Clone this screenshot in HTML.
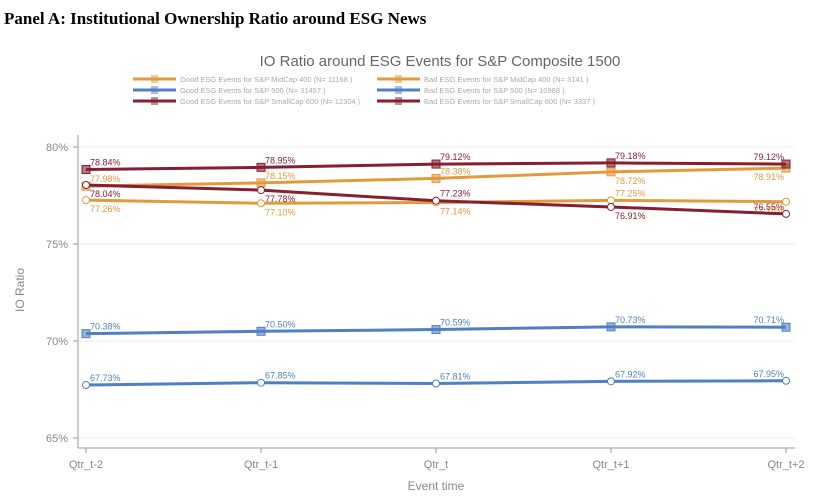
<!DOCTYPE html>
<html><head><meta charset="utf-8"><style>
body{margin:0;background:#fff;width:813px;height:498px;overflow:hidden}
svg text{font-family:"Liberation Sans",sans-serif}
</style></head><body>
<svg width="813" height="498">
<text x="4" y="24" font-weight="bold" font-size="17" fill="#000" style="font-family:'Liberation Serif',serif">Panel A: Institutional Ownership Ratio around ESG News</text>
<text x="440" y="66" text-anchor="middle" font-size="15" fill="#666">IO Ratio around ESG Events  for S&amp;P Composite 1500</text>
<g id="legend"></g>
<g id="grid"></g>
<line x1="78" y1="135" x2="78" y2="448" stroke="#999"/>
<line x1="78" y1="448" x2="795" y2="448" stroke="#999"/>
<g id="plot"></g>
<text x="24" y="290" transform="rotate(-90 24 290)" text-anchor="middle" font-size="12" fill="#888">IO Ratio</text>
<text x="436" y="490" text-anchor="middle" font-size="12" fill="#888">Event time</text>
</svg>
<script>
const categories=["Qtr_t-2","Qtr_t-1","Qtr_t","Qtr_t+1","Qtr_t+2"];
const yTicks=[65,70,75,80];
const seriesNames=["Good ESG Events for S&P MidCap 400 (N= 11168 )","Bad ESG Events for S&P MidCap 400 (N= 3141 )","Good ESG Events for S&P 500 (N= 31457 )","Bad ESG Events for S&P 500 (N= 10988 )","Good ESG Events for S&P SmallCap 600 (N= 12304 )","Bad ESG Events for S&P SmallCap 600 (N= 3337 )"];
const goodMid=[77.98,78.15,78.38,78.72,78.91];
const badMid=[77.26,77.10,77.14,77.25,77.18];
const good500=[70.38,70.50,70.59,70.73,70.71];
const bad500=[67.73,67.85,67.81,67.92,67.95];
const goodSmall=[78.84,78.95,79.12,79.18,79.12];
const badSmall=[78.04,77.78,77.23,76.91,76.55];
const NS="http://www.w3.org/2000/svg";
const xs=i=>86+i*175;
const ys=v=>147+(80-v)*19.4;
function el(t,a,p){const e=document.createElementNS(NS,t);for(const k in a)e.setAttribute(k,a[k]);p.appendChild(e);return e;}
const grid=document.getElementById('grid'),plot=document.getElementById('plot'),leg=document.getElementById('legend');
yTicks.forEach(t=>{
  const g=el('line',{x1:78,x2:795,y1:ys(t),y2:ys(t),stroke:'#eee'},grid);
  
  
  el('line',{x1:73,x2:78,y1:ys(t),y2:ys(t),stroke:'#999'},grid);
  const tx=el('text',{x:68,y:ys(t)+4,'text-anchor':'end','font-size':11,fill:'#888'},grid);tx.textContent=t+'%';
  
  
});
categories.forEach((c,i)=>{
  el('line',{x1:xs(i),x2:xs(i),y1:448,y2:453,stroke:'#999'},grid);
  const tx=el('text',{x:xs(i),y:468,'text-anchor':'middle','font-size':11,fill:'#888'},grid);tx.textContent=c;
  
  
});
// label placement: 'a' above, 'b' below
const series=[
 {d:good500,c:'#4f7fc4',m:'sq',pos:'aaaaa'},{d:bad500,c:'#4f7fc4',m:'ci',pos:'aaaaa'},
 {d:goodMid,c:'#e39a3b',m:'sq',pos:'aaabb'},{d:badMid,c:'#e39a3b',m:'ci',pos:'bbbab'},
 {d:goodSmall,c:'#861f2f',m:'sq',pos:'aaaaa'},{d:badSmall,c:'#861f2f',m:'ci',pos:'bbaba'}];
series.forEach((s,k)=>{
  const pl=el('polyline',{points:s.d.map((v,i)=>xs(i)+','+ys(v)).join(' '),fill:'none',stroke:s.c,'stroke-width':3},plot);
  
  
  s.d.forEach((v,i)=>{
    let mk;
    if(s.m==='sq')mk=el('rect',{x:xs(i)-4,y:ys(v)-4,width:8,height:8,fill:s.c,'fill-opacity':0.6,stroke:s.c},plot);
    else mk=el('circle',{cx:xs(i),cy:ys(v),r:3.5,fill:'#fff',stroke:s.c},plot);
    
    
    const below=s.pos[i]==='b';
    const t=el('text',{x:xs(i)+(i===4?-2:4),y:ys(v)+(below?12:-4),'font-size':9,fill:s.c,'text-anchor':i===4?'end':'start'},plot);
    t.textContent=v.toFixed(2)+'%';
    
    
  });
});
const legCols=['#e39a3b','#e39a3b','#4f7fc4','#4f7fc4','#861f2f','#861f2f'];
seriesNames.forEach((n,k)=>{
  const col=k%2,row=Math.floor(k/2);
  const x=col?377:133,y=79+row*11;
  el('line',{x1:x,x2:x+43,y1:y,y2:y,stroke:legCols[k],'stroke-width':3},leg);
  el('rect',{x:x+18,y:y-4,width:7,height:8,fill:legCols[k],'fill-opacity':0.5},leg);
  const t=el('text',{x:x+47,y:y+3,'font-size':7.5,fill:'#aaa'},leg);t.textContent=n;
  
  
});
</script>
</body></html>
